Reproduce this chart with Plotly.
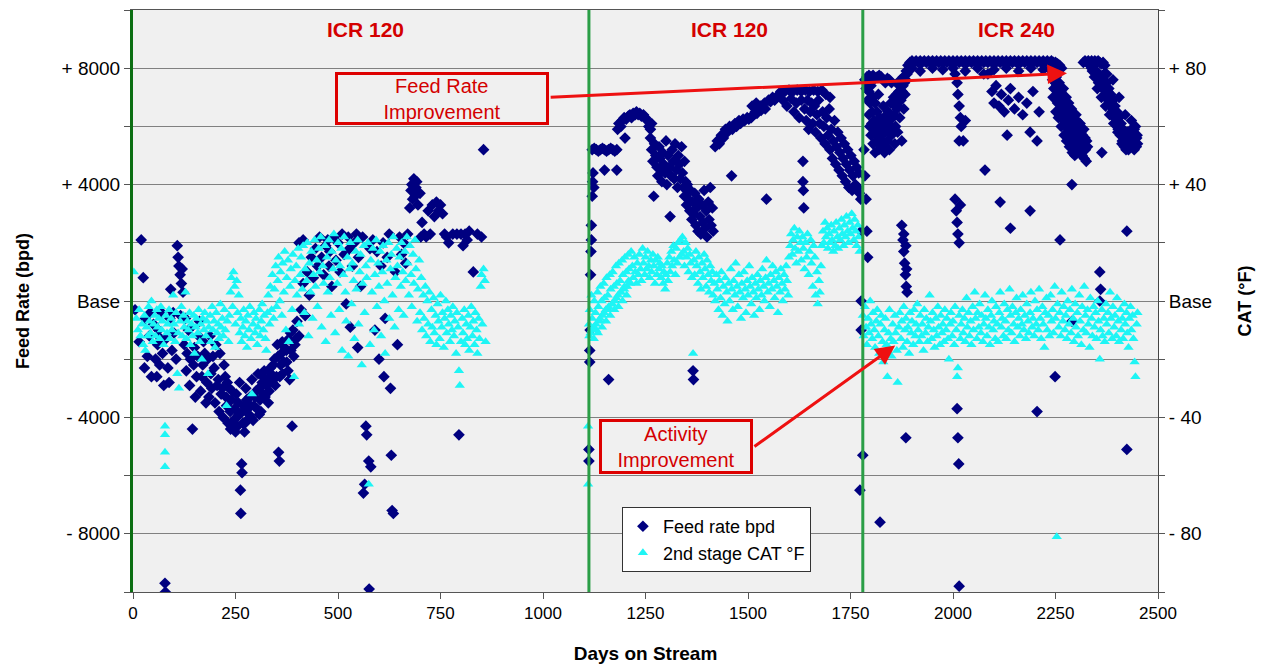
import plotly.graph_objects as go

# ---------------- data (day on stream, value) ----------------
# Feed rate relative to base, bpd
feed_icr120_a = [
    (5,-300),(20,2100),(25,800),(30,-600),(35,-1900),(40,-1200),(45,-2600),(50,-800),(55,-2000),(60,-1500),
    (62,-1000),(65,-2200),(70,-400),(72,-1800),(75,-2900),(78,-9700),(79,-10000),(80,-1300),(85,-2300),(90,-600),
    (92,400),(95,-1700),(100,-1100),(105,-2000),(108,1900),(110,1500),(112,1200),(115,900),(118,600),(120,1100),
    (122,300),(116,-500),(125,-1500),(130,-2400),(135,-1000),(140,-2000),(145,-4400),(150,-1600),(155,-2600),(160,-1200),
    (165,-3100),(170,-2200),(175,-1800),(180,-2800),(185,-3300),(190,-2500),(195,-1900),(200,-3500),(205,-2900),(210,-3800),
    (215,-3200),(220,-4000),(225,-2600),(228,-3600),(232,-4200),(235,-3000),(238,-4400),(240,-3400),(245,-4100),(248,-3700),
    (250,-4500),(252,-3200),(255,-4300),(258,-3900),(260,-2800),(262,-6500),(263,-7300),(265,-5600),(266,-5900),(268,-4200),
    (270,-3600),(272,-4500),(275,-3000),(278,-4100),(280,-3700),(285,-3300),(288,-4000),(290,-2700),(295,-3600),(300,-3100),
    (305,-2500),(308,-3900),(310,-3400),(315,-2800),(318,-3200),(320,-2400),(325,-2900),(330,-3500),(335,-2300),(340,-2800),
    (345,-2000),(350,-2600),(352,-1500),(355,-5200),(357,-5500),(360,-2200),(362,-1800),(365,-2500),(370,-1600),(375,-2100),
    (380,-1300),(382,-2700),(385,-1700),(388,-4300),(390,-1000),(395,-1500),(400,-700),(405,-1200),(410,-300),(415,600),
    (405,2000),(415,2100),(420,-500),(425,1000),(430,200),(435,1500),(440,800),(445,1800),(450,1200),(455,2200),
    (460,1500),(465,900),(470,1900),(475,2100),(478,1200),(480,1700),(485,500),(490,2200),(495,1400),(500,2000),
    (505,1000),(510,2300),(515,1600),(520,-100),(525,2200),(528,1800),(530,-900),(535,1200),(540,2000),(545,2300),
    (548,-1600),(550,1500),(555,500),(560,2200),(562,-6600),(565,-6300),(568,-4300),(570,-4600),(575,-5500),(576,-9900),
    (578,1800),(580,-5700),(585,2100),(590,-1000),(595,1700),(600,-2000),(605,1200),(610,2000),(612,-2600),(615,-600),
    (620,1500),(625,2300),(628,-3000),(630,-5300),(632,-7200),(635,-7300),(640,1000),(645,-1500),(650,2200),(655,1600),
    (660,2000),(665,1300),(670,2300),(675,3200),(678,3800),(680,4000),(682,3500),(685,4200),(688,3600),(690,3900),
    (692,4100),(695,3300),(700,3700),(702,2200),(705,2700),(710,2300),(715,2200),(720,3100),(725,2300),(730,3300),
    (735,2900),(740,3400),(745,3100),(750,3300),(755,3000),(760,2300),(765,2200),(770,2000),(780,2300),(790,2300),
    (795,-4600),(800,2300),(805,1900),(810,2300),(815,2100),(820,2400),(830,1000),(840,2300),(850,2200),(855,5200),
    (128,-600),(132,-1800),(138,-2900),(142,-900),(148,-2200),(152,-3300),(158,-1900),(162,-700),(168,-2600),(172,-1400),
    (178,-3500),(182,-2000),(188,-1200),(192,-3000),(198,-2300),(202,-1500),(208,-2700),(212,-1800),(218,-3000),(222,-2200),
    (227,-3300),(230,-2800),(237,-3800),(242,-3100),(247,-4300),(253,-4000),(257,-3500),(267,-3800),(273,-4200),(277,-3400),
    (283,-3900),(287,-3600),(293,-4100),(297,-3300),(302,-3700),(307,-3000),(312,-3800),(317,-2600),(322,-3300),(327,-2700),
    (332,-3100),(337,-2500),(342,-2200),(347,-2900),(354,-1900),(358,-2600),(364,-1400),(368,-2100),(374,-1700),(378,-2400),
    (384,-1100),(392,-1900),(398,-1300),(15,-1400),(28,-2300),(42,-400),(58,-2600),(68,-1300),(88,-2800),(98,-400),
]
feed_icr120_b = [
    (1112,-5500),(1112,-5100),(1114,-2100),(1114,-1700),(1115,-1000),(1116,900),(1117,1700),(1118,2100),(1118,2600),(1120,3600),
    (1121,4100),(1122,4400),(1124,3900),(1160,-2700),
    (1120,5200),(1125,5250),(1130,5200),(1135,5150),(1140,5200),(1145,5250),(1150,5200),(1155,5150),(1160,5200),(1165,5250),
    (1170,5200),(1175,5150),(1180,5200),(1150,4500),(1180,4500),
    (1182,5900),(1185,6100),(1190,6000),(1193,6200),(1198,6300),(1200,5600),(1203,6250),(1208,6350),(1212,6400),(1216,6300),
    (1220,6450),(1225,6400),(1228,6500),(1232,6400),(1236,6450),(1240,6350),(1245,6400),(1250,6300),(1254,6200),(1258,6000),
    (1262,5900),(1265,6100),
    (1262,5600),(1265,5200),(1268,4800),(1270,3600),(1272,5400),(1275,5000),(1278,4600),(1280,4300),(1283,5300),(1285,4900),
    (1288,4500),(1290,4100),(1292,5100),(1295,4700),(1298,4400),(1300,5500),(1302,4000),(1305,5000),(1308,4600),(1310,2900),
    (1312,4300),(1315,5200),(1318,4800),(1320,4200),(1322,5400),(1325,4500),(1328,3900),(1330,5000),(1333,4700),(1335,4200),
    (1338,5300),(1340,4400),(1343,3900),(1345,4800),(1348,4100),(1350,3800),
    (1345,3600),(1350,3300),(1352,4000),(1355,3500),(1358,3100),(1360,3800),(1363,2800),(1365,3400),(1366,-2400),(1367,-2700),
    (1368,3000),(1370,3700),(1373,2600),(1375,3200),(1378,2400),(1380,3500),(1383,2900),(1385,2300),(1388,3300),(1390,2700),
    (1393,3800),(1395,2500),(1398,3100),(1400,2200),(1403,3400),(1405,2800),(1408,3900),(1410,2600),(1413,3200),(1415,2400),
    (1420,5300),(1425,5500),(1430,5400),(1435,5700),(1440,5600),(1445,5900),(1450,5800),(1455,6000),(1460,4300),(1462,5900),
    (1468,6100),(1472,6000),(1478,6200),(1482,6100),(1488,6250),(1492,6200),(1498,6300),(1502,6250),(1508,6300),(1512,6400),
    (1518,6500),(1522,6450),(1528,6600),(1532,6550),(1538,6650),(1542,6600),(1545,3500),
    (1510,6700),(1520,6800),(1530,6700),(1540,6800),(1550,6900),(1555,6850),(1560,7000),(1565,6900),(1570,7000),(1575,7100),
    (1580,7200),(1590,7200),(1600,7250),(1610,7200),(1620,7250),(1630,7200),(1640,7250),(1650,7200),(1660,7250),(1670,7200),
    (1680,7250),(1690,7100),(1700,7000),
    (1585,6900),(1595,6700),(1605,6950),(1612,6500),(1618,6800),(1625,6300),(1630,6900),(1634,4800),(1634,4100),(1635,3800),
    (1636,3200),(1638,6600),(1642,6200),(1645,6900),(1648,5900),(1652,6500),(1655,6800),(1658,6100),(1662,6700),(1665,5800),
    (1668,6400),(1672,6900),(1675,6100),(1678,5600),(1682,6500),(1685,6000),(1688,5400),(1692,6300),(1695,5700),(1698,6600),
    (1700,5200),(1703,5900),(1706,4900),(1708,5500),(1711,6200),(1714,4700),(1716,5300),(1719,5800),(1722,4500),(1724,5100),
    (1727,5600),(1730,4300),(1732,4900),(1735,5400),(1738,4100),(1740,4700),(1743,5200),(1746,3900),(1748,4500),(1751,5000),
    (1754,3800),(1756,4300),(1759,4800),(1762,4000),(1765,4600),(1768,3900),(1770,4400),(1772,3700),(1775,3500),(1776,2400),
    (1776,0),(1773,-6500),(1776,-1000),
]
feed_icr240 = [
    (1780,-5300),(1783,5200),(1785,4300),(1788,3500),(1790,2400),(1792,1500),(1822,-7600),(1885,-4700),
    (1785,7600),(1790,7700),(1795,7750),(1800,7700),(1805,7750),(1810,7650),(1815,7700),(1820,7750),(1825,7700),(1830,7600),
    (1835,7500),(1840,7650),(1845,7600),(1850,7500),
    (1795,7200),(1798,6800),(1800,7400),(1803,6500),(1806,7000),(1808,6200),(1810,6800),(1812,5900),(1815,6500),(1818,7100),
    (1820,5600),(1822,6300),(1825,5300),(1828,6000),(1830,6700),(1833,5100),(1835,5800),(1838,6400),(1840,5500),(1843,6100),
    (1845,5200),(1848,6800),(1850,5700),(1853,6300),(1855,7000),(1858,5400),(1860,6000),(1863,6600),(1865,5800),(1868,7200),
    (1870,6300),(1873,6900),(1875,5500),(1878,7400),(1880,6600),(1883,7100),(1885,7600),(1888,7800),
    (1788,7300),(1792,6900),(1795,6400),(1797,6000),(1800,5700),(1802,6100),(1805,5400),(1807,5800),(1810,5100),(1813,5500),
    (1816,6000),(1819,5200),(1823,5700),(1826,6200),(1829,5500),(1832,6000),(1836,5300),(1839,5900),(1842,6500),(1846,5900),
    (1849,6300),(1852,6800),(1856,6400),(1859,6900),(1862,7100),(1866,6700),(1869,7400),(1872,7600),(1876,7200),(1879,7700),
    (1882,7500),(1886,7900),
    (1875,2600),(1878,2100),(1880,1700),(1882,1300),(1884,900),(1886,500),(1888,300),(1880,2300),(1885,1900),(1887,1100),
    (1890,8100),(1895,8200),(1900,8250),(1905,8200),(1910,8250),(1915,8200),(1920,8250),(1925,8200),(1930,8250),(1935,8200),
    (1940,8250),(1945,8200),(1950,8250),(1955,8200),(1960,8250),(1965,8200),(1970,8250),(1975,8200),(1980,8250),(1985,8200),
    (1990,8250),(1995,8200),(2000,8250),(2005,8200),(2010,8250),(2015,8200),(2020,8250),(2025,8200),(2030,8250),(2035,8200),
    (2040,8250),(2045,8200),(2050,8250),(2055,8200),(2060,8250),(2065,8200),(2070,8250),(2075,8200),(2080,8250),(2085,8200),
    (2090,8250),(2095,8200),(2100,8250),(2105,8200),(2110,8250),(2115,8200),(2120,8250),(2125,8200),(2130,8250),(2135,8200),
    (2140,8250),(2145,8200),(2150,8250),(2155,8200),(2160,8250),(2165,8200),(2170,8250),(2175,8200),(2180,8250),(2185,8200),
    (2190,8250),(2195,8200),(2200,8250),(2205,8200),(2210,8250),(2215,8200),(2220,8250),(2225,8200),(2230,8250),(2235,8200),
    (2240,8250),(2245,8200),(2250,8200),(2255,8150),(2260,8100),(2265,8000),
    (1900,8000),(1920,7900),(1950,8000),(1975,7950),(2000,8000),(2030,7900),(2060,8000),(2100,7950),(2130,8000),(2160,7900),
    (2190,8000),(2220,7950),
    (2005,7800),(2010,7500),(2012,7100),(2015,6700),(2018,6300),(2020,6000),(2015,5500),(2025,5500),(2030,6200),(2005,3500),
    (2008,3100),(2010,2700),(2012,2300),(2015,2000),(2018,3300),(2010,-3700),(2012,-4700),(2014,-5600),(2015,-9800),
    (2075,7800),(2085,7800),(2095,7200),(2100,6800),(2105,7400),(2112,6700),(2118,7100),(2125,6500),(2132,5700),(2135,6900),
    (2140,7300),(2150,6600),(2160,7000),(2170,6400),(2180,6800),(2188,5800),(2195,7200),(2205,5500),(2210,6500),
    (2078,4500),(2115,3400),(2140,2500),(2188,3100),(2205,-3800),(2249,-2600),(2261,2100),(2290,4000),(2290,-700),(2358,1000),
    (2358,0),(2360,400),(2424,2400),(2424,-5100),(2363,5100),
    (2240,7900),(2243,7600),(2246,7300),(2248,7700),(2250,7000),(2253,7400),(2255,6800),(2258,7200),(2260,6600),(2262,7000),
    (2265,6400),(2268,6800),(2270,6200),(2272,6600),(2275,6000),(2278,6400),(2280,5800),(2283,6200),(2285,5600),(2288,6000),
    (2290,5400),(2293,5800),(2295,5300),(2298,5700),(2300,5500),(2303,6000),(2305,5400),(2308,5800),(2310,5200),(2313,5600),
    (2315,5000),(2318,5400),(2320,4900),(2323,5200),(2325,4800),(2300,6400),(2310,6100),
    (2238,8000),(2242,7800),(2245,7900),(2249,7500),(2252,7700),(2256,7300),(2259,7500),(2263,7200),(2266,7100),(2269,7300),
    (2273,6900),(2276,7000),(2279,6700),(2282,6800),(2286,6500),(2289,6600),(2292,6300),(2296,6400),(2299,6100),(2302,6200),
    (2306,5900),(2309,6000),(2312,5800),(2316,5700),(2319,5900),(2322,5600),(2326,5500),(2328,5300),(2244,7000),(2251,6500),
    (2257,6300),(2264,6000),(2271,5700),(2277,5500),(2284,5300),(2291,5100),(2297,5000),(2304,5100),
    (2318,8200),(2322,8250),(2326,8200),(2330,8250),(2334,8200),(2338,8250),(2342,8200),(2346,8250),(2350,8200),(2354,8250),
    (2358,8200),(2362,8150),(2366,8200),(2370,8100),
    (2340,7900),(2345,7700),(2350,7800),(2355,7500),(2360,7600),(2365,7300),(2368,7800),(2370,7400),(2373,7100),(2375,7500),
    (2378,6900),(2380,7300),(2383,6700),(2385,7100),(2388,6500),(2390,6900),(2393,6300),(2395,6700),(2398,6100),(2400,6500),
    (2403,5900),(2405,6300),(2408,5700),(2410,6100),(2413,5500),(2415,5900),(2418,5300),(2420,5700),(2423,5400),(2425,5800),
    (2428,5200),(2430,5600),(2433,5300),(2435,5900),(2438,5500),(2440,5400),(2443,5700),(2445,5300),(2448,5600),(2450,5400),
    (2375,7800),(2390,7600),(2405,7000),(2420,6400),(2435,6200),(2445,6000),
    (2338,8000),(2343,8000),(2348,7900),(2353,7700),(2357,7800),(2363,7500),(2367,7600),(2372,7300),(2377,7200),(2382,7000),
    (2387,6800),(2392,6600),(2397,6400),(2402,6200),(2407,6000),(2412,5800),(2417,5600),(2422,5500),(2427,5400),(2432,5400),
    (2437,5300),(2442,5200),(2447,5300),(2352,7300),(2362,7000),(2372,6700),(2382,6400),(2392,6100),(2402,5800),(2412,5400),
    (2422,5200),(2432,5800),(2442,5900),(2449,5700),
]

# 2nd stage CAT relative to base, deg F
cat_icr120_a = [
    (2,10),(8,-6),(12,-10),(15,-3),(18,-12),(22,-8),(25,-15),(28,-5),(30,-17),(33,-9),(36,-12),(38,-2),(40,-7),(43,-11),
    (45,0),(48,-14),(50,-8),(53,-5),(55,-12),(58,-3),(60,-9),(63,-6),(65,-13),(68,-2),(70,-10),(72,-7),(75,-15),(78,-43),
    (78,-46),(78,-52),(78,-57),(80,-5),(83,-11),(85,-8),(88,-3),(90,-13),(93,-6),(95,-10),(98,2),(100,-8),(103,-14),(105,-4),
    (108,-25),(110,-11),(112,-30),(115,-7),(118,-2),(120,-12),(123,-5),(125,-9),(128,3),(130,-13),(133,-7),(135,-10),(138,-4),
    (140,-15),(143,-8),(145,-12),(148,-5),(150,-18),(153,-9),(155,-6),(158,-11),(160,-3),(163,-14),(165,-8),(168,-20),(170,-6),
    (173,-10),(175,-4),(178,-12),(180,-7),(183,-25),(185,-9),(188,-5),(190,-14),(193,-2),(195,-10),(198,-7),(200,-16),(203,-4),
    (205,-11),(208,-8),(210,-13),(213,-1),(215,-9),(218,-6),(220,-12),(223,-3),(225,-10),(228,-36),(230,-7),(233,-14),(235,-5),
    (238,3),(240,8),(243,-2),(245,10),(248,5),(250,-8),(253,7),(255,-4),(258,2),(260,-11),(263,-6),(265,-14),(268,-9),(270,-3),
    (273,-12),(275,-7),(278,-16),(280,-5),(283,-10),(285,-2),(288,-13),(290,-32),(293,-8),(295,-4),(298,-11),(300,-6),(303,-15),
    (305,-9),(308,-3),(310,-12),(313,-7),(315,-1),(318,-10),(320,-5),(323,-13),(325,-17),(328,-4),(330,2),(333,-8),(335,5),
    (338,-3),(340,9),(343,-6),(345,4),(348,12),(350,-2),(353,7),(355,15),(358,0),(360,10),(363,-5),(365,13),(368,3),(370,17),
    (373,-10),(375,8),(378,14),(380,-14),(383,5),(385,11),(388,-3),(390,16),(393,-26),(395,7),(398,12),(400,2),(403,18),
    (405,-8),(408,9),(410,15),(413,4),(415,19),(418,-4),(420,11),(423,7),(425,20),(428,-12),(430,13),(433,3),(435,17),(438,-6),
    (440,9),(443,21),(445,5),(448,14),(450,-2),(453,18),(455,10),(458,22),(460,-9),(463,12),(465,6),(468,19),(470,-14),(473,15),
    (475,3),(478,21),(480,8),(483,-5),(485,17),(488,11),(490,23),(493,-11),(495,14),(498,6),(500,20),(503,-3),(505,12),(508,18),
    (510,-17),(513,9),(515,22),(518,3),(520,-7),(523,15),(525,-19),(528,11),(530,20),(533,-1),(535,13),(538,7),(540,-13),
    (543,17),(545,4),(548,21),(550,-8),(553,10),(555,16),(558,-22),(560,6),(563,19),(565,-4),(568,12),(570,8),(573,20),
    (575,-63),(578,-15),(580,14),(583,3),(585,18),(588,-10),(590,9),(593,21),(595,-2),(598,13),(600,5),(603,17),(605,-12),
    (608,10),(610,19),(613,0),(615,-18),(618,14),(620,6),(623,20),(625,-6),(628,11),(630,16),(633,2),(635,22),(638,-9),(640,8),
    (643,18),(645,12),(648,-3),(650,15),(653,5),(655,20),(658,10),(660,-5),(663,17),(665,7),(668,22),(670,13),(673,2),(675,19),
    (678,9),(680,-2),(683,16),(685,6),(688,21),(690,11),(693,-7),(695,4),(698,14),(700,-4),(703,8),(705,-10),(708,2),(710,-6),
    (713,5),(715,-12),(718,0),(720,-8),(723,3),(725,-14),(728,-3),(730,-9),(733,1),(735,-11),(738,-5),(740,-15),(743,-1),
    (745,-7),(748,-13),(750,2),(753,-9),(755,-4),(758,-16),(760,-6),(763,0),(765,-11),(768,-3),(770,-8),(773,-14),(775,-5),
    (778,-10),(780,-2),(783,-12),(785,-7),(788,-18),(790,-4),(793,-9),(795,-24),(797,-29),(800,-14),(803,-6),(805,-11),(808,-3),
    (810,-15),(813,-8),(815,-13),(818,-5),(820,-17),(823,-9),(825,-2),(828,-12),(830,-7),(833,-15),(835,-4),(838,-10),(840,-18),
    (843,-6),(845,-13),(848,5),(850,9),(852,-8),(855,11),(858,7),(860,-14),
]
cat_icr120_b = [
    (1110,-43),(1110,-63),(1112,-8),(1114,-3),(1116,-11),(1118,2),(1120,-6),(1123,-9),(1125,0),(1128,-4),(1130,-10),(1133,3),
    (1135,-2),(1138,-7),(1140,5),(1143,0),(1145,-5),(1148,6),(1150,1),(1153,-3),(1155,8),(1158,2),(1160,-2),(1163,9),(1165,4),
    (1168,-1),(1170,10),(1173,5),(1175,0),(1178,12),(1180,6),(1183,2),(1185,13),(1188,7),(1190,3),(1193,14),(1195,9),(1198,4),
    (1200,15),(1203,10),(1205,5),(1208,16),(1210,11),(1213,6),(1215,17),(1218,12),(1220,8),(1223,15),(1225,10),(1228,6),
    (1230,13),(1233,9),(1235,16),(1238,11),(1240,7),(1243,18),(1245,13),(1248,9),(1250,15),(1253,11),(1255,17),(1258,12),
    (1260,8),(1263,14),(1265,10),(1268,16),(1270,12),(1273,6),(1275,14),(1278,9),(1280,15),(1283,11),(1285,13),(1288,8),
    (1290,12),(1293,6),(1295,10),(1298,4),(1300,9),(1303,13),(1305,7),(1308,15),(1310,10),(1313,17),(1315,12),(1318,19),
    (1320,14),(1323,9),(1325,18),(1328,13),(1330,20),(1333,15),(1335,21),(1338,16),(1340,22),(1343,17),(1345,12),(1348,20),
    (1350,15),(1353,18),(1355,10),(1358,16),(1360,13),(1363,8),(1366,-18),(1368,14),(1370,9),(1373,17),(1375,12),(1378,6),
    (1380,15),(1383,10),(1385,4),(1388,13),(1390,8),(1393,16),(1395,11),(1398,5),(1400,14),(1403,9),(1405,3),(1408,12),(1410,7),
    (1413,10),(1415,2),(1418,6),(1420,0),(1423,9),(1425,4),(1428,-3),(1430,7),(1433,1),(1435,10),(1438,-5),(1440,5),(1443,-1),
    (1445,8),(1448,3),(1450,-7),(1453,6),(1455,0),(1458,11),(1460,4),(1463,-3),(1465,7),(1468,2),(1470,13),(1473,5),(1475,-2),
    (1478,9),(1480,3),(1483,-6),(1485,6),(1488,1),(1490,10),(1493,4),(1495,-4),(1498,7),(1500,2),(1503,12),(1505,5),(1508,-1),
    (1510,8),(1513,3),(1515,-5),(1518,6),(1520,1),(1523,9),(1525,4),(1528,-3),(1530,7),(1533,2),(1535,11),(1538,5),(1540,0),
    (1543,8),(1545,14),(1548,3),(1550,6),(1553,-2),(1555,9),(1558,4),(1560,12),(1563,7),(1565,1),(1568,10),(1570,5),(1573,-4),
    (1575,8),(1578,3),(1580,11),(1583,6),(1585,0),(1588,9),(1590,4),(1593,12),(1595,7),(1598,2),(1600,15),(1603,19),(1605,23),
    (1608,16),(1610,21),(1613,25),(1615,18),(1618,13),(1620,22),(1623,17),(1625,24),(1628,20),(1630,14),(1633,22),(1635,18),
    (1638,11),(1640,20),(1643,15),(1645,23),(1648,9),(1650,17),(1653,21),(1655,13),(1658,5),(1660,19),(1663,15),(1665,2),
    (1668,10),(1670,-1),(1673,7),(1675,3),(1678,12),(1680,19),(1683,24),(1685,20),(1688,27),(1690,22),(1693,25),(1695,18),
    (1698,23),(1700,20),(1703,26),(1705,21),(1708,17),(1710,24),(1713,19),(1715,27),(1718,22),(1720,18),(1723,25),(1725,21),
    (1728,28),(1730,23),(1733,19),(1735,26),(1738,22),(1740,29),(1743,24),(1745,20),(1748,27),(1750,23),(1753,30),(1755,25),
    (1758,21),(1760,28),(1763,24),(1765,19),(1768,26),(1770,22),(1772,17),
    (1113,-12),(1119,-10),(1124,-13),(1129,-8),(1134,-11),(1139,-6),(1144,-9),(1149,-4),(1154,-7),(1159,-3),(1164,-5),(1169,-1),
    (1174,-3),(1179,1),(1184,-2),(1189,3),(1194,0),(1199,5),(1204,2),(1209,7),
]
cat_icr240 = [
    (1780,-5),(1782,-12),(1785,-2),(1788,-9),(1790,-15),(1793,-6),(1795,-11),(1798,0),(1800,-8),(1803,-13),(1805,-4),(1808,-10),
    (1810,-16),(1813,-7),(1815,-3),(1818,-12),(1820,-18),(1823,-8),(1825,-5),(1828,-14),(1830,-21),(1833,-10),(1835,-6),
    (1838,-15),(1840,-26),(1843,-11),(1845,-3),(1848,-13),(1850,-19),(1853,-8),(1855,-14),(1858,-5),(1860,-11),(1863,-17),
    (1865,-28),(1868,-9),(1870,-4),(1873,-13),(1875,-7),(1878,-16),(1880,-2),(1883,-10),(1885,-6),(1888,-14),(1890,-9),
    (1893,-18),(1895,-4),(1898,-11),(1900,-7),(1903,-15),(1905,-3),(1908,-12),(1910,-8),(1913,-1),(1915,-10),(1918,-14),
    (1920,-5),(1923,-12),(1925,-8),(1928,-17),(1930,-3),(1933,-11),(1935,-6),(1938,-14),(1940,-9),(1943,2),(1945,-7),(1948,-13),
    (1950,-4),(1953,-10),(1955,-16),(1958,-6),(1960,-12),(1963,-2),(1965,-9),(1968,-15),(1970,-5),(1973,-11),(1975,-8),
    (1978,-14),(1980,-3),(1983,-10),(1985,-6),(1988,-13),(1990,-20),(1993,-8),(1995,-4),(1998,-12),(2000,-7),(2003,-15),
    (2005,-2),(2008,-10),(2010,-26),(2012,-23),(2015,-5),(2018,-13),(2020,-8),(2023,-3),(2025,-11),(2028,-6),(2030,-14),
    (2033,1),(2035,-9),(2038,-4),(2040,-12),(2043,-7),(2045,-15),(2048,-2),(2050,-10),(2053,3),(2055,-6),(2058,-13),(2060,-4),
    (2063,-9),(2065,-1),(2068,-11),(2070,-5),(2073,-14),(2075,-8),(2078,2),(2080,-6),(2083,-12),(2085,-3),(2088,-9),(2090,-15),
    (2093,-5),(2095,0),(2098,-10),(2100,-7),(2103,-13),(2105,-2),(2108,-8),(2110,-14),(2113,-4),(2115,3),(2118,-9),(2120,-6),
    (2123,-12),(2125,-1),(2128,-7),(2130,-13),(2133,-3),(2135,-10),(2138,4),(2140,-5),(2143,-11),(2145,-2),(2148,-8),(2150,-14),
    (2153,-4),(2155,1),(2158,-9),(2160,-6),(2163,-12),(2165,-3),(2168,-8),(2170,2),(2173,-10),(2175,-5),(2178,-13),(2180,-1),
    (2183,-7),(2185,-11),(2188,-4),(2190,3),(2193,-9),(2195,-6),(2198,-12),(2200,0),(2203,-8),(2205,-3),(2208,-10),(2210,4),
    (2213,-6),(2215,-13),(2218,-2),(2220,-8),(2223,-16),(2225,-4),(2228,1),(2230,-10),(2233,-5),(2235,-12),(2238,2),(2240,-7),
    (2243,-3),(2245,-11),(2248,5),(2250,-6),(2253,-81),(2255,-1),(2258,-9),(2260,-4),(2263,-12),(2265,3),(2268,-7),(2270,-2),
    (2273,-10),(2275,-5),(2278,-13),(2280,0),(2283,-8),(2285,-3),(2288,-11),(2290,4),(2293,-6),(2295,-14),(2298,-1),(2300,-9),
    (2303,-4),(2305,-12),(2308,2),(2310,-7),(2313,-15),(2315,-2),(2318,-10),(2320,5),(2323,-5),(2325,-11),(2328,-3),(2330,-8),
    (2333,-16),(2335,1),(2338,-6),(2340,-12),(2343,-2),(2345,-9),(2348,-4),(2350,-13),(2353,0),(2355,-7),(2358,-20),(2360,-10),
    (2363,-3),(2365,-12),(2368,-6),(2370,-14),(2373,-1),(2375,-8),(2378,-4),(2380,-11),(2383,3),(2385,-6),(2388,-13),(2390,-2),
    (2393,-9),(2395,-5),(2398,-12),(2400,1),(2403,-7),(2405,-14),(2408,-3),(2410,-10),(2413,-6),(2415,-13),(2418,-1),(2420,-8),
    (2423,-4),(2425,-11),(2428,-16),(2430,-6),(2433,-2),(2435,-10),(2438,-5),(2440,-13),(2443,-21),(2445,-26),(2448,-8),(2450,-4),
]

# run boundaries (catalyst change-outs) and run labels
run_change_days = [1112, 1780]
run_labels = ["ICR 120", "ICR 120", "ICR 240"]
run_label_days = [568, 1456, 2154]

# axis ticks
x_ticks = [0, 250, 500, 750, 1000, 1250, 1500, 1750, 2000, 2250, 2500]
feed_tick_vals = [-10000, -8000, -6000, -4000, -2000, 0, 2000, 4000, 6000, 8000, 10000]
feed_tick_text = ["", "- 8000", "", "- 4000", "", "Base", "", "+ 4000", "", "+ 8000", ""]
cat_tick_vals = [-100, -80, -60, -40, -20, 0, 20, 40, 60, 80, 100]
cat_tick_text = ["", "- 80", "", "- 40", "", "Base", "", "+ 40", "", "+ 80", ""]


def unzip(pairs):
    return [p[0] for p in pairs], [p[1] for p in pairs]


feed_x, feed_y = unzip(feed_icr120_a + feed_icr120_b + feed_icr240)
cat_x, cat_y = unzip(cat_icr120_a + cat_icr120_b + cat_icr240)

FONT = "Arial, Liberation Sans, sans-serif"
RED = "#D40000"

fig = go.Figure()
fig.add_trace(go.Scatter(
    x=feed_x, y=feed_y, mode="markers", name="Feed rate bpd", yaxis="y",
    marker=dict(symbol="diamond", size=9, color="#000080", line=dict(width=0)),
))
fig.add_trace(go.Scatter(
    x=cat_x, y=cat_y, mode="markers", name="2nd stage CAT °F", yaxis="y2",
    marker=dict(symbol="triangle-up", size=9, color="#1EF5F5", line=dict(width=0)),
))

shapes = []
for d in run_change_days:
    shapes.append(dict(type="line", xref="x", yref="paper", x0=d, x1=d, y0=0, y1=1,
                       line=dict(color="#2A9E46", width=3), layer="above"))

annotations = []
for lbl, d in zip(run_labels, run_label_days):
    annotations.append(dict(x=d, y=0.967, xref="x", yref="paper", yanchor="middle", text="<b>%s</b>" % lbl,
                            showarrow=False, font=dict(family=FONT, size=21, color=RED)))

# arrows
annotations.append(dict(x=2278, y=7826, ax=1015, ay=7000, xref="x", yref="y", axref="x", ayref="y",
                        text="", showarrow=True, arrowhead=2, arrowsize=1.3, arrowwidth=3, arrowcolor="#EE1111"))
annotations.append(dict(x=1859, y=-1530, ax=1512, ay=-5040, xref="x", yref="y", axref="x", ayref="y",
                        text="", showarrow=True, arrowhead=2, arrowsize=1.3, arrowwidth=3, arrowcolor="#EE1111"))
# boxes
annotations.append(dict(x=754, y=6949, xref="x", yref="y", text="Feed Rate<br>Improvement", showarrow=False,
                        font=dict(family=FONT, size=20, color=RED), bgcolor="#F0F0F0",
                        bordercolor="#DD0000", borderwidth=3, borderpad=0, width=208, height=47))
annotations.append(dict(x=1324, y=-4988, xref="x", yref="y", text="Activity<br>Improvement", showarrow=False,
                        font=dict(family=FONT, size=20, color=RED), bgcolor="#F0F0F0",
                        bordercolor="#DD0000", borderwidth=3, borderpad=0, width=148, height=49))

fig.update_layout(
    width=1266, height=664,
    margin=dict(l=133, r=108, t=10, b=72, autoexpand=False),
    paper_bgcolor="white", plot_bgcolor="#F0F0F0",
    font=dict(family=FONT, size=17, color="black"),
    showlegend=True,
    legend=dict(x=0.477, y=0.146, xanchor="left", yanchor="top", bgcolor="white",
                bordercolor="#333333", borderwidth=1, font=dict(family=FONT, size=18),
                tracegroupgap=0, itemsizing="trace", itemwidth=30),
    xaxis=dict(range=[0, 2500], tickvals=x_ticks, ticks="outside", ticklen=6, tickcolor="#555555",
               showgrid=False, zeroline=False, showline=True, linecolor="#555555", linewidth=1, mirror=True,
               tickfont=dict(size=17), automargin=False,
               title=dict(text="<b>Days on Stream</b>", font=dict(size=19), standoff=24)),
    yaxis=dict(range=[-10000, 10000], tickvals=feed_tick_vals, ticktext=feed_tick_text,
               ticks="outside", ticklen=6, tickcolor="#555555",
               showgrid=True, gridcolor="#808080", gridwidth=1, zeroline=False,
               showline=True, linecolor="#0B6E12", linewidth=3,
               tickfont=dict(size=19), automargin=False,
               title=dict(text="<b>Feed Rate (bpd)</b>", font=dict(size=18), standoff=28)),
    yaxis2=dict(range=[-100, 100], tickvals=cat_tick_vals, ticktext=cat_tick_text, overlaying="y", side="right",
                ticks="outside", ticklen=6, tickcolor="#555555", showgrid=False, zeroline=False,
                showline=True, linecolor="#444444", linewidth=1, tickfont=dict(size=19), automargin=False,
                title=dict(text="<b>CAT (°F)</b>", font=dict(size=18), standoff=27)),
    shapes=shapes,
    annotations=annotations,
)

fig.write_html("out.html")
